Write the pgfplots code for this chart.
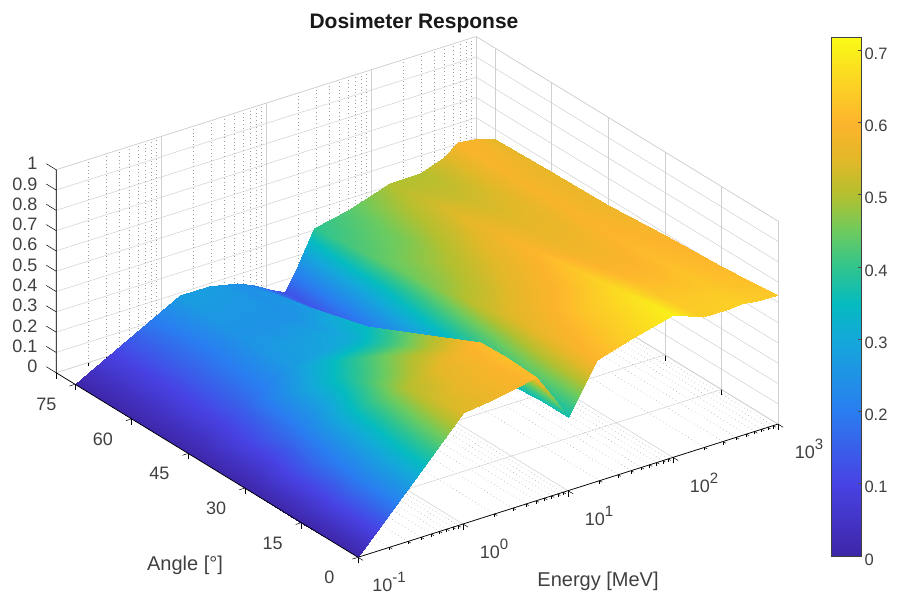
\documentclass[border=0pt]{standalone}
\usepackage{pgfplots}
\usepackage{fontspec}
\setmainfont{Liberation Sans}
\pgfplotsset{compat=1.18}
\definecolor{tk}{HTML}{404040}
\definecolor{gridc}{HTML}{D0D0D0}
\newcommand\pw[1]{10\raisebox{.5em}{\fontsize{15}{15}\selectfont #1}}
\pgfplotsset{colormap={myparula}{
 rgb255(0pt)=(62,38,168); rgb255(10pt)=(72,66,228); rgb255(20pt)=(42,125,240);
 rgb255(30pt)=(20,168,218); rgb255(35pt)=(5,187,192); rgb255(40pt)=(48,196,143);
 rgb255(45pt)=(108,203,95); rgb255(50pt)=(178,192,48); rgb255(55pt)=(226,184,40);
 rgb255(60pt)=(253,180,45); rgb255(65pt)=(252,208,37); rgb255(72pt)=(249,251,21)}}
\begin{document}
\begin{tikzpicture}[x=1pt,y=1pt]
\path[use as bounding box] (0,0) rectangle (897,596);
\begin{axis}[
  at={(463pt,72pt)}, anchor=origin,
  x={(105pt,33.3pt)}, y={(-3.773pt,2.307pt)}, z={(0pt,203pt)},
  xmin=-1,xmax=3,ymin=0,ymax=80,zmin=0,zmax=1,
  disabledatascaling, clip=false,
  colormap name=myparula,
  point meta min=0, point meta max=0.718,
  axis line style={gridc,line width=0.5pt},
  grid=both,
  major grid style={gridc,line width=0.5pt},
  minor grid style={gray!75,line width=0.4pt,dash pattern=on 0.7pt off 3pt},
  xtick={-1,0,1,2,3},
  xticklabels={\pw{-1},\pw{0},\pw{1},\pw{2},\pw{3}},
  minor xtick={-0.699,-0.523,-0.398,-0.301,-0.222,-0.155,-0.097,-0.046,
    0.301,0.477,0.602,0.699,0.778,0.845,0.903,0.954,
    1.301,1.477,1.602,1.699,1.778,1.845,1.903,1.954,
    2.301,2.477,2.602,2.699,2.778,2.845,2.903,2.954},
  ytick={0,15,30,45,60,75},
  ztick={0,0.1,...,1},
  xtick pos=left, ytick pos=left, ztick pos=left,
  xticklabel pos=left, yticklabel pos=left, zticklabel pos=left,
  tick align=outside,
  tick style={black,line width=0.5pt},
  z tick style={draw=none},
  major tick length=6pt, minor tick length=3pt,
  /pgf/number format/assume math mode=true,
  ticklabel style={font=\fontsize{18}{18}\selectfont,text=tk},
  xticklabel style={anchor=center,xshift=26pt,yshift=-22pt},
  yticklabel style={anchor=center,xshift=-23pt,yshift=-18.5pt},
  zticklabel style={anchor=east,xshift=-10pt,yshift=3pt},
  xlabel={Energy [MeV]}, ylabel={Angle [°]},
  label style={font=\fontsize{20}{20}\selectfont,text=tk},
  xlabel style={at={(axis cs:1.286,0,-0.4916)},anchor=center,sloped=false,rotate=0},
  ylabel style={at={(axis cs:0,73.68,-1.04)},anchor=center,sloped=false,rotate=0},
  title={\bfseries Dosimeter Response},
  title style={font=\fontsize{21}{21}\selectfont,text=black!90,at={(axis cs:-0.4667,0,2.515)},anchor=center},
]
\addplot3[surf,shader=interp,mesh/rows=7,mesh/ordering=x varies,point meta=z] table {
x y z
-1 0 0
-0.5 0 0.27
0 0 0.545
0.28 0 0.565
0.54 0 0.59
0.7 0 0.61
0.85 0 0.49
1 0 0.365
1.12 0 0.47
1.28 0 0.60
1.6 0 0.65
2 0 0.70
2.29 0 0.642
2.5 0 0.645
2.65 0 0.648
2.8 0 0.64
3 0 0.635
-1 7.5 0
-0.5 7.5 0.26
0 7.5 0.53
0.28 7.5 0.565
0.54 7.5 0.59
0.7 7.5 0.62
0.85 7.5 0.51
1 7.5 0.36
1.12 7.5 0.46
1.28 7.5 0.585
1.6 7.5 0.635
2 7.5 0.685
2.29 7.5 0.635
2.5 7.5 0.635
2.65 7.5 0.635
2.8 7.5 0.625
3 7.5 0.62
-1 15 0
-0.5 15 0.24
0 15 0.50
0.28 15 0.55
0.54 15 0.585
0.7 15 0.61
0.85 15 0.50
1 15 0.35
1.12 15 0.45
1.28 15 0.565
1.6 15 0.62
2 15 0.665
2.29 15 0.62
2.5 15 0.615
2.65 15 0.625
2.8 15 0.615
3 15 0.607
-1 30 0
-0.5 30 0.185
0 30 0.38
0.28 30 0.44
0.54 30 0.45
0.7 30 0.48
0.85 30 0.39
1 30 0.28
1.12 30 0.39
1.28 30 0.52
1.6 30 0.56
2 30 0.62
2.29 30 0.585
2.5 30 0.585
2.65 30 0.605
2.8 30 0.60
3 30 0.59
-1 45 0
-0.5 45 0.15
0 45 0.27
0.28 45 0.29
0.54 45 0.31
0.7 45 0.35
0.85 45 0.29
1 45 0.20
1.12 45 0.33
1.28 45 0.46
1.6 45 0.51
2 45 0.58
2.29 45 0.56
2.5 45 0.565
2.65 45 0.59
2.8 45 0.58
3 45 0.57
-1 60 0
-0.5 60 0.135
0 60 0.25
0.28 60 0.25
0.54 60 0.25
0.7 60 0.27
0.85 60 0.21
1 60 0.15
1.12 60 0.27
1.28 60 0.43
1.6 60 0.46
2 60 0.54
2.29 60 0.53
2.5 60 0.545
2.65 60 0.585
2.8 60 0.575
3 60 0.558
-1 75 0
-0.5 75 0.14
0 75 0.275
0.28 75 0.272
0.54 75 0.244
0.7 75 0.21
0.85 75 0.165
1 75 0.125
1.12 75 0.24
1.28 75 0.395
1.6 75 0.43
2 75 0.498
2.29 75 0.50
2.5 75 0.54
2.65 75 0.595
2.8 75 0.585
3 75 0.55
};
\draw[black,line width=0.7pt] (axis cs:3,0,0)--(axis cs:-1,0,0)--(axis cs:-1,80,0)--(axis cs:-1,80,1);
\pgfplotsinvokeforeach{0,0.1,0.2,0.3,0.4,0.5,0.6,0.7,0.8,0.9,1}{
  \draw[black,line width=0.5pt] (axis cs:-1,80,#1)--(axis cs:-1,82.6,#1);
}
\end{axis}
\begin{axis}[
  at={(831pt,40pt)}, anchor=south west,
  scale only axis, width=30pt, height=519pt,
  xmin=0,xmax=1,ymin=0,ymax=0.718,
  axis on top,
  colormap name=myparula,
  point meta min=0, point meta max=0.718,
  xtick=\empty, ytick={0,0.1,...,0.7},
  ytick pos=right, yticklabel pos=right,
  tick align=inside, major tick length=3pt,
  tick style={black!70,line width=0.5pt},
  axis line style={tk,line width=0.7pt},
  /pgf/number format/assume math mode=true,
  ticklabel style={font=\fontsize{16.5}{16.5}\selectfont,text=tk,yshift=-3.5pt},
]
\addplot[surf,shader=interp,mesh/rows=2,point meta=y] table {
x y
0 0
1 0
0 0.718
1 0.718
};
\end{axis}
\end{tikzpicture}
\end{document}
